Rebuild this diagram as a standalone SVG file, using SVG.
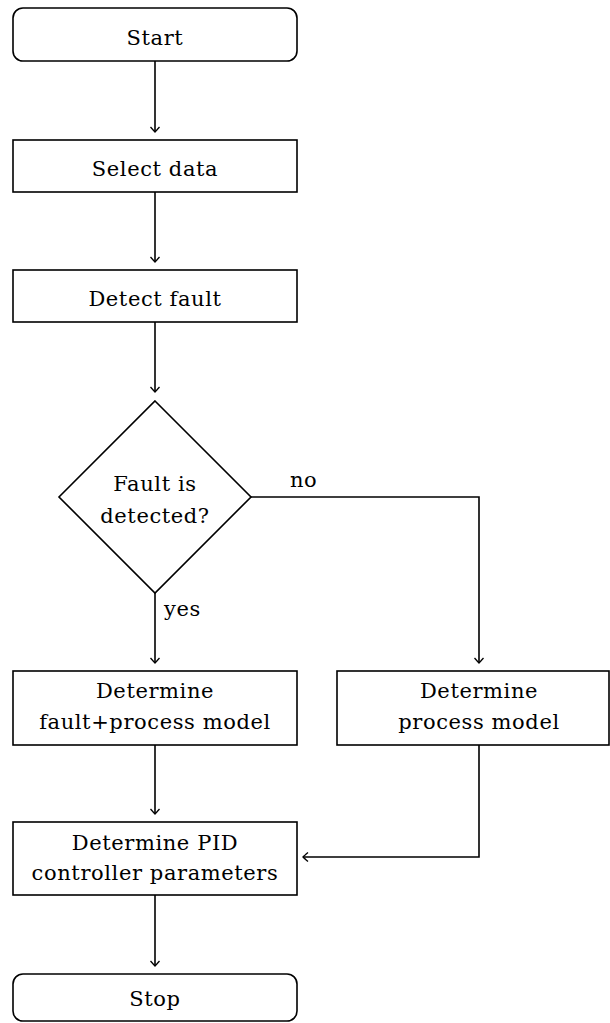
<svg xmlns="http://www.w3.org/2000/svg" width="610" height="1023" viewBox="0 0 610 1023">
  <style>
    .box { fill: #ffffff; stroke: #000000; stroke-width: 1.6; }
    .lbl { font-family: 'DejaVu Serif', serif; font-size: 21px; letter-spacing: 0.6px; fill: #000000; text-anchor: middle; }
    .edge { fill: none; stroke: #000000; stroke-width: 1.6; }
    .elbl { font-family: 'DejaVu Serif', serif; font-size: 21px; letter-spacing: 0.6px; fill: #000000; }
  </style>
  <defs>
    <marker id="tip" viewBox="-6 -6 8 12" markerWidth="8" markerHeight="12" refX="0" refY="0" orient="auto" markerUnits="userSpaceOnUse">
      <path d="M -5 -4.5 Q -1 -1 0 0 Q -1 1 -5 4.5" fill="none" stroke="#000000" stroke-width="1.3"/>
    </marker>
  </defs>

  <g id="connectors">
    <path class="edge" d="M 155 61 L 155 132" marker-end="url(#tip)"/>
    <path class="edge" d="M 155 192 L 155 262" marker-end="url(#tip)"/>
    <path class="edge" d="M 155 322 L 155 392" marker-end="url(#tip)"/>
    <path class="edge" d="M 155 593 L 155 663" marker-end="url(#tip)"/>
    <path class="edge" d="M 251 497 L 479 497 L 479 663" marker-end="url(#tip)"/>
    <path class="edge" d="M 155 745 L 155 814" marker-end="url(#tip)"/>
    <path class="edge" d="M 479 745 L 479 857 L 303 857" marker-end="url(#tip)"/>
    <path class="edge" d="M 155 895 L 155 966" marker-end="url(#tip)"/>
    <text class="elbl" x="290" y="487">no</text>
    <text class="elbl" x="164" y="616">yes</text>
  </g>

  <g id="start">
    <rect class="box" x="13" y="8" width="284" height="53" rx="10"/>
    <text class="lbl" x="155" y="45">Start</text>
  </g>

  <g id="select-data">
    <rect class="box" x="13" y="140" width="284" height="52"/>
    <text class="lbl" x="155" y="176">Select data</text>
  </g>

  <g id="detect-fault">
    <rect class="box" x="13" y="270" width="284" height="52"/>
    <text class="lbl" x="155" y="306">Detect fault</text>
  </g>

  <g id="fault-detected">
    <polygon class="box" points="155,401 251,497 155,593 59,497"/>
    <text class="lbl" x="155" y="491">Fault is</text>
    <text class="lbl" x="155" y="523">detected?</text>
  </g>

  <g id="fault-process-model">
    <rect class="box" x="13" y="671" width="284" height="74"/>
    <text class="lbl" x="155" y="698">Determine</text>
    <text class="lbl" x="155" y="729">fault+process model</text>
  </g>

  <g id="process-model">
    <rect class="box" x="337" y="671" width="272" height="74"/>
    <text class="lbl" x="479" y="698">Determine</text>
    <text class="lbl" x="479" y="729">process model</text>
  </g>

  <g id="pid-parameters">
    <rect class="box" x="13" y="822" width="284" height="73"/>
    <text class="lbl" x="155" y="850">Determine PID</text>
    <text class="lbl" x="155" y="880">controller parameters</text>
  </g>

  <g id="stop">
    <rect class="box" x="13" y="974" width="284" height="47" rx="10"/>
    <text class="lbl" x="155" y="1006">Stop</text>
  </g>
</svg>
